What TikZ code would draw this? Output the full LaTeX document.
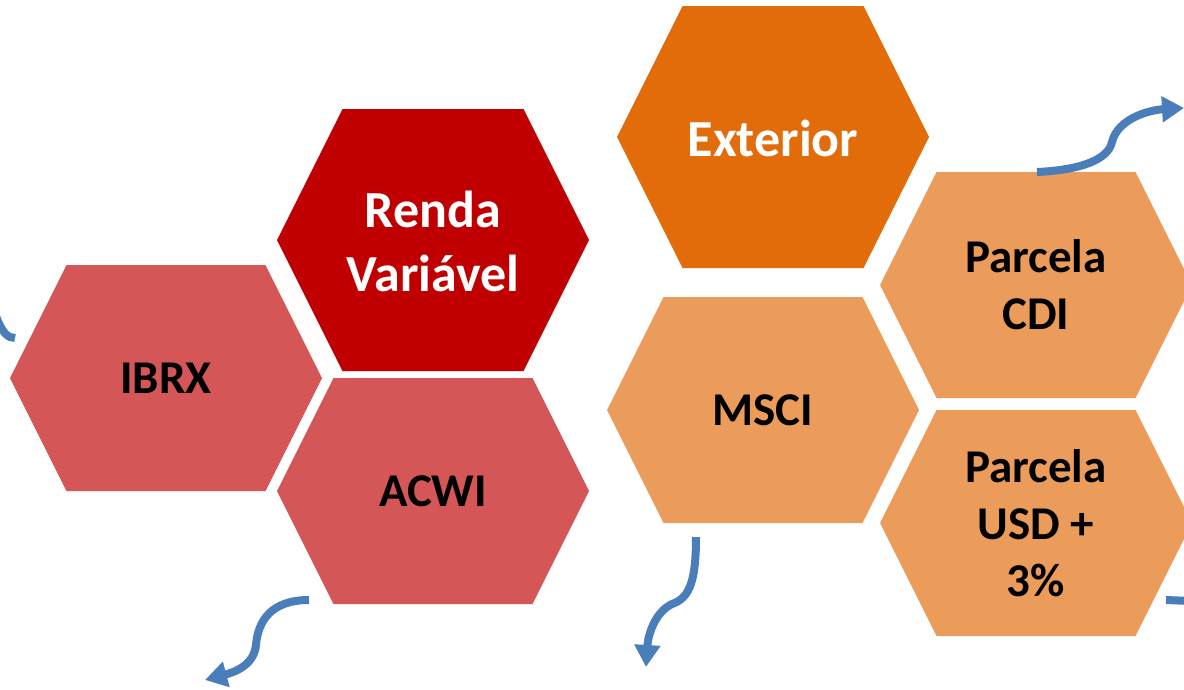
\documentclass[tikz,border=0pt]{standalone}
\usepackage{fontspec}
\setmainfont{Carlito}
\usetikzlibrary{arrows.meta}
\definecolor{rvred}{HTML}{C00000}
\definecolor{subred}{HTML}{D55656}
\definecolor{exorange}{HTML}{E36C0A}
\definecolor{suborange}{HTML}{EB9C5B}
\definecolor{flowblue}{HTML}{4A7EBB}

\begin{document}
\begin{tikzpicture}[
		x=1pt, y=-1pt
		,hexlabel/.style={font=\bfseries\fontsize{47}{57}\selectfont, align=center, inner sep=0pt}
		,toplabel/.style={hexlabel, font=\bfseries\fontsize{52}{64}\selectfont, text=white}
		,flow/.style={draw=flowblue, line width=8pt, -{Triangle[length=22pt, width=25pt]}}
		,stub/.style={draw=flowblue, line width=8pt}
	]
	\useasboundingbox (0,0) rectangle (1184,689);
	\clip (0,0) rectangle (1184,689);
	% cells: centre x/y, half height, colour
	\foreach \cx/\cy/\hh/\col in {433/240/131/rvred, 166/378/113/subred, 433/491/113/subred, 773/137/131/exorange, 763/410/113/suborange, 1036/285/113/suborange, 1036/523/113/suborange}
		\fill[\col] (\cx-156,\cy) -- (\cx-156+\hh/2,\cy-\hh) -- (\cx+156-\hh/2,\cy-\hh) -- (\cx+156,\cy) -- (\cx+156-\hh/2,\cy+\hh) -- (\cx-156+\hh/2,\cy+\hh) -- cycle;

	\node [toplabel] (rv) at (433,241) {Renda\\Variável};
	\node [hexlabel] (ibrx) at (166,378) {IBRX};
	\node [hexlabel] (acwi) at (433,491) {ACWI};
	\node [toplabel] (ext) at (773,138) {Exterior};
	\node [hexlabel] (msci) at (763,410) {MSCI};
	\node [hexlabel] (cdi) at (1036,285) {Parcela\\CDI};
	\node [hexlabel] (usd) at (1036,523) {Parcela\\USD +\\3\%};

	% arrow ends
	\coordinate (cdiT) at (1037,172);
	\coordinate (outNE) at (1184,108);
	\coordinate (acwiB) at (309,600);
	\coordinate (outSW) at (205,680);
	\coordinate (msciB) at (696,537);
	\coordinate (outS) at (646,667);
	\coordinate (inW) at (-4,316);
	\coordinate (ibrxW) at (15,338);
	\coordinate (usdE) at (1166,600);
	\coordinate (outE) at (1190,601);

	\draw [flow] (cdiT) .. controls (1080,170) and (1108,160) .. (1112,142) .. controls (1118,118) and (1150,110) .. (outNE);
	\draw [flow] (acwiB) .. controls (272,600) and (258,620) .. (256,645) .. controls (254,665) and (235,672) .. (outSW);
	\draw [flow] (msciB) .. controls (696,580) and (690,598) .. (672,604) .. controls (655,612) and (648,635) .. (outS);
	\draw [stub] (inW) .. controls (2,333) and (8,338) .. (ibrxW);
	\draw [stub] (usdE) -- (outE);
\end{tikzpicture}
\end{document}
